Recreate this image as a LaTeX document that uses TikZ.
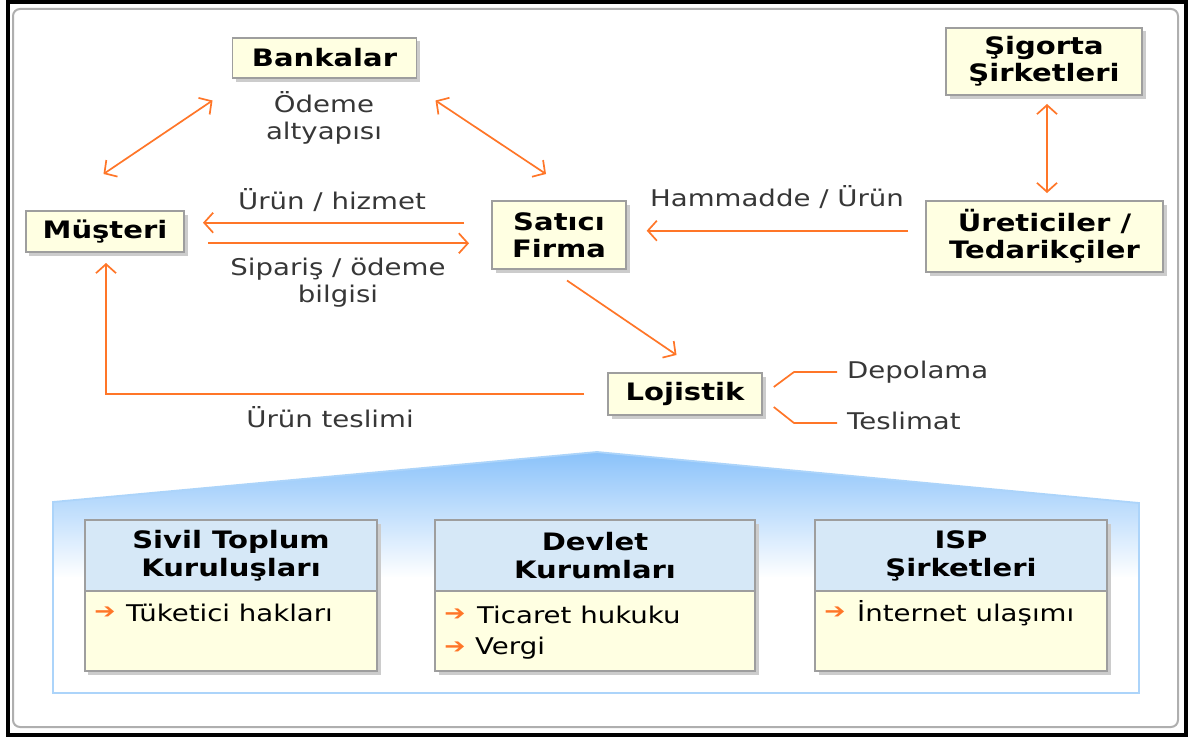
\documentclass[tikz,border=0pt]{standalone}
\usepackage{fontspec}
\setmainfont{DejaVu Sans}[FakeStretch=1.2]
\newfontfamily\heavyface{DejaVu Sans}[FakeStretch=1.21]
\usetikzlibrary{arrows.meta,shadows,calc}

\definecolor{flow}{RGB}{255,118,40}
\definecolor{boxfill}{RGB}{255,255,226}
\definecolor{boxline}{RGB}{158,158,158}
\definecolor{hdrfill}{RGB}{214,232,247}
\definecolor{skyline}{RGB}{172,212,250}
\definecolor{skytop}{RGB}{138,194,250}
\definecolor{labeltext}{RGB}{55,55,55}
\definecolor{framegray}{RGB}{175,175,175}

\tikzset{
  boxshadow/.style={drop shadow={shadow xshift=3.5bp, shadow yshift=-3.5bp, fill=black!20, opacity=1}},
  entity/.style={draw=boxline, line width=1.5bp, fill=boxfill, boxshadow,
    font=\heavyface\bfseries\fontsize{24bp}{27bp}\selectfont, align=center, inner sep=0pt},
  lbl/.style={text=labeltext, font=\fontsize{23bp}{27bp}\selectfont, align=center, inner sep=0pt},
  itemtext/.style={text=black, font=\fontsize{23bp}{27bp}\selectfont, inner sep=0pt, anchor=west},
  bullet/.style={text=flow, font=\bfseries\fontsize{21bp}{22bp}\selectfont, inner sep=0pt},
  barb/.tip={Straight Barb[length=9bp, width=20bp, line width=1.7bp]},
  flowarrow/.style={draw=flow, line width=1.7bp, -barb},
  twoway/.style={draw=flow, line width=1.7bp, barb-barb},
  bracket/.style={draw=flow, line width=1.7bp},
  panel/.style={draw=boxline, line width=1.5bp, fill=boxfill, boxshadow, inner sep=0pt},
  panelhead/.style={draw=boxline, line width=1.5bp, fill=hdrfill, inner sep=0pt, anchor=north,
    font=\heavyface\bfseries\fontsize{24bp}{28bp}\selectfont, align=center},
  panelbody/.style={draw=boxline, line width=1.5bp, fill=boxfill, inner sep=0pt, anchor=south}
}

\begin{document}
\begin{tikzpicture}[x=1bp,y=-1bp]
\useasboundingbox (0,0) rectangle (1189,738);
\fill[white] (0,0) rectangle (1189,738);

% outer frame and inner rounded sheet
\draw[line width=4bp] (8,2) rectangle (1185.5,734.5);
\draw[draw=framegray, line width=2bp, rounded corners=7bp] (13,9) rectangle (1178,727);

% entities of the trade network
\node[entity, minimum width=184bp, minimum height=40bp] (bank) at (324.5,58) {Bankalar};
\node[entity, minimum width=196bp, minimum height=67bp] (sigorta) at (1044,61.5) {Şigorta\\Şirketleri};
\node[entity, minimum width=158bp, minimum height=41bp] (must) at (105,231.5) {Müşteri};
\node[entity, minimum width=134bp, minimum height=68bp] (satici) at (559,235) {Satıcı\\Firma};
\node[entity, minimum width=237bp, minimum height=71bp] (uret) at (1044.5,236.5) {Üreticiler /\\Tedarikçiler};
\node[entity, minimum width=154bp, minimum height=42bp] (loj) at (685,394) {Lojistik};

% flow labels
\node[lbl] (odeme) at (324,118) {Ödeme\\altyapısı};
\node[lbl] (urunhiz) at (332,200) {Ürün / hizmet};
\node[lbl] (siparis) at (338,282.5) {Sipariş / ödeme\\bilgisi};
\node[lbl] (hammadde) at (777,197) {Hammadde / Ürün};
\node[lbl] (teslimi) at (330,417) {Ürün teslimi};
\node[lbl, anchor=west] (depo) at (847,372) {Depolama};
\node[lbl, anchor=west] (teslimat) at (847,421) {Teslimat};

% connector end points
\coordinate (mb-a) at (103.5,174);
\coordinate (mb-b) at (212.5,100.5);
\coordinate (bs-a) at (435.5,100.5);
\coordinate (bs-b) at (546,174);
\coordinate (sm-a) at (464,222.7);
\coordinate (sm-b) at (203,222.7);
\coordinate (ms-a) at (208,243.3);
\coordinate (ms-b) at (469,243.3);
\coordinate (us-a) at (908,230.7);
\coordinate (us-b) at (646.7,230.7);
\coordinate (su-a) at (1047,104);
\coordinate (su-b) at (1047,193);
\coordinate (sl-a) at (567,280.5);
\coordinate (sl-b) at (676.5,355);
\coordinate (lm-a) at (584,394);
\coordinate (lm-b) at (106,263);

\draw[twoway] (mb-a) -- (mb-b);
\draw[twoway] (bs-a) -- (bs-b);
\draw[flowarrow] (sm-a) -- (sm-b);
\draw[flowarrow] (ms-a) -- (ms-b);
\draw[flowarrow] (us-a) -- (us-b);
\draw[twoway] (su-a) -- (su-b);
\draw[flowarrow] (sl-a) -- (sl-b);
\draw[flowarrow] (lm-a) -| (lm-b);

% logistics branches
\coordinate (dep-k) at (794,372);
\coordinate (tes-k) at (794,423);
\draw[bracket] ([xshift=11bp,yshift=7bp]loj.east) -- (dep-k) -- ($(dep-k -| depo.west)+(-10,0)$);
\draw[bracket] ([xshift=11bp,yshift=-13bp]loj.east) -- (tes-k) -- ($(tes-k -| teslimat.west)+(-10,0)$);

% supporting environment: blue roof shape
\begin{scope}
  \clip (53,693) -- (53,502) -- (597,452) -- (1139,503) -- (1139,693) -- cycle;
  \shade[top color=skytop, bottom color=white] (53,452) rectangle (1139,578);
  \fill[white] (53,577) rectangle (1139,694);
\end{scope}
\draw[draw=skyline, line width=1.8bp] (53,693) -- (53,502) -- (597,452) -- (1139,503) -- (1139,693) -- cycle;

% supporting institutions
\node[panel, minimum width=292bp, minimum height=151bp] (stk) at (231,595.5) {};
\node[panelhead, minimum width=292bp, minimum height=71bp] (stk-h) at (stk.north) {Sivil Toplum\\Kuruluşları};
\node[panelbody, minimum width=292bp, minimum height=80bp] (stk-b) at (stk.south) {};
\node[bullet] (stk-m1) at (105,613) {➔};
\node[itemtext] (stk-i1) at (126,613) {Tüketici hakları};

\node[panel, minimum width=320bp, minimum height=151bp] (dev) at (595,595.5) {};
\node[panelhead, minimum width=320bp, minimum height=71bp] (dev-h) at (dev.north) {Devlet\\Kurumları};
\node[panelbody, minimum width=320bp, minimum height=80bp] (dev-b) at (dev.south) {};
\node[bullet] (dev-m1) at (455,615) {➔};
\node[itemtext] (dev-i1) at (477,615) {Ticaret hukuku};
\node[bullet] (dev-m2) at (455,648) {➔};
\node[itemtext] (dev-i2) at (475,648) {Vergi};

\node[panel, minimum width=292bp, minimum height=151bp] (isp) at (961,595.5) {};
\node[panelhead, minimum width=292bp, minimum height=71bp] (isp-h) at (isp.north) {ISP\\Şirketleri};
\node[panelbody, minimum width=292bp, minimum height=80bp] (isp-b) at (isp.south) {};
\node[bullet] (isp-m1) at (835,613) {➔};
\node[itemtext] (isp-i1) at (857,613) {İnternet ulaşımı};
\end{tikzpicture}
\end{document}
